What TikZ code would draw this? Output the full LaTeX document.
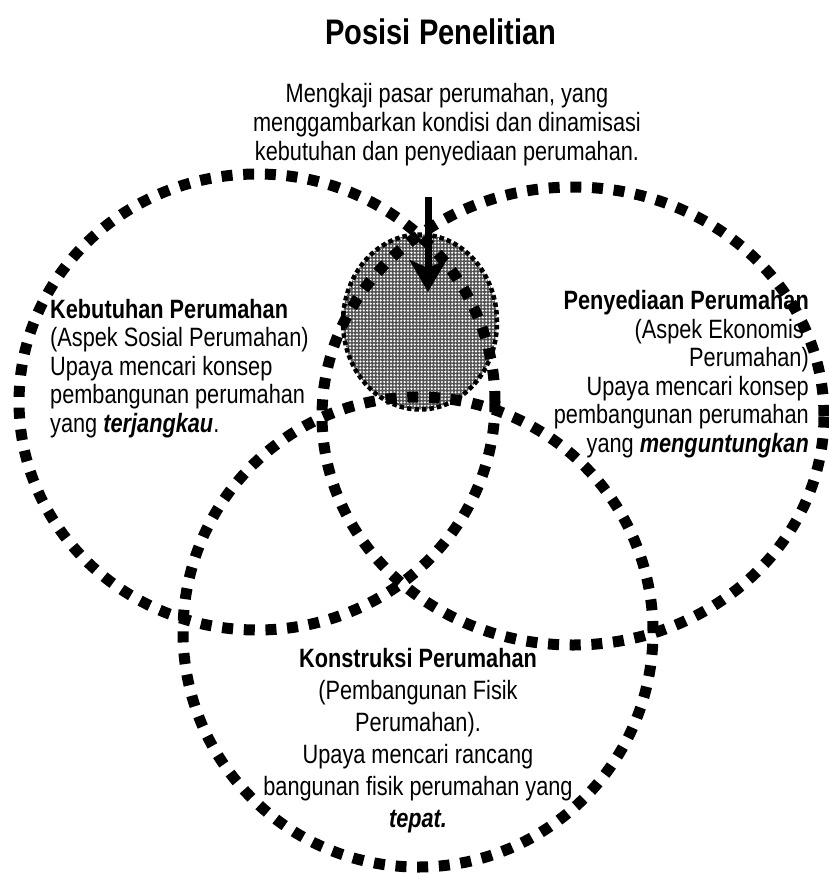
\documentclass[tikz,border=0pt]{standalone}
\usepackage{fontspec}
\setmainfont{Liberation Sans}[FakeStretch=0.82]
\usetikzlibrary{shapes.geometric,arrows.meta,patterns.meta}

\tikzset{
  ring/.style={ellipse, draw=black, line width=11pt, line cap=butt,
    dash pattern=on 11pt off 10.7pt, inner sep=0pt, outer sep=0pt},
  focuscore/.style={ellipse, draw=black, line width=4.5pt,
    dash pattern=on 4.5pt off 3pt, inner sep=0pt, outer sep=0pt,
    preaction={fill=black!68},
    pattern={Dots[distance=3.4pt,radius=1.2pt]}, pattern color=white},
  titletext/.style={font=\fontsize{35.5}{40}\selectfont\bfseries, inner sep=0pt},
  bodytext/.style={font=\fontsize{26.5}{28.5}\selectfont, inner sep=0pt},
  droparrow/.style={line width=7pt, -{Stealth[length=32pt, width=37pt, inset=8pt]}},
}

\begin{document}
\begin{tikzpicture}[x=1pt,y=-1pt]
\useasboundingbox (0,0) rectangle (829,875);

% stippled core where the three fields meet
\node[focuscore, minimum width=154pt, minimum height=175pt] (core) at (420,322) {};

% the three dashed fields
\node[ring, minimum width=476pt, minimum height=456pt] (needs) at (257,402) {};
\node[ring, minimum width=502pt, minimum height=458pt] (supply) at (573,416) {};
\node[ring, minimum width=470pt, minimum height=470pt] (build) at (418,632) {};

% arrow pointing into the core
\coordinate (drop) at (428,197);
\coordinate (tip) at (428,292);
\draw[droparrow] (drop) -- (tip);

% heading
\node[titletext, anchor=base] (title) at (441,45) {Posisi Penelitian};
\node[bodytext, anchor=base] (sub1) at (447,102) {Mengkaji pasar perumahan, yang};
\node[bodytext, anchor=base] (sub2) at (447,131) {menggambarkan kondisi dan dinamisasi};
\node[bodytext, anchor=base] (sub3) at (447,160) {kebutuhan dan penyediaan perumahan.};

% left field
\node[bodytext, anchor=base west] (l1) at (50,318) {\textbf{Kebutuhan Perumahan}};
\node[bodytext, anchor=base west] (l2) at (50,346.5) {(Aspek Sosial Perumahan)};
\node[bodytext, anchor=base west] (l3) at (50,375) {Upaya mencari konsep};
\node[bodytext, anchor=base west] (l4) at (50,403.5) {pembangunan perumahan};
\node[bodytext, anchor=base west] (l5) at (50,432) {yang \textbf{\textit{terjangkau}}.};

% right field
\node[bodytext, anchor=base east] (r1) at (809,309.5) {\textbf{Penyediaan Perumahan}};
\node[bodytext, anchor=base east] (r2) at (804,338) {(Aspek Ekonomis};
\node[bodytext, anchor=base east] (r3) at (809,366.5) {Perumahan)};
\node[bodytext, anchor=base east] (r4) at (809,395) {Upaya mencari konsep};
\node[bodytext, anchor=base east] (r5) at (809,423.5) {pembangunan perumahan};
\node[bodytext, anchor=base east] (r6) at (809,452) {yang \textbf{\textit{menguntungkan}}};

% bottom field
\node[bodytext, anchor=base] (b1) at (418,667) {\textbf{Konstruksi Perumahan}};
\node[bodytext, anchor=base] (b2) at (418,699) {(Pembangunan Fisik};
\node[bodytext, anchor=base] (b3) at (418,731) {Perumahan).};
\node[bodytext, anchor=base] (b4) at (418,763) {Upaya mencari rancang};
\node[bodytext, anchor=base] (b5) at (418,795) {bangunan fisik perumahan yang};
\node[bodytext, anchor=base] (b6) at (418,827) {\textbf{\textit{tepat.}}};
\end{tikzpicture}
\end{document}
